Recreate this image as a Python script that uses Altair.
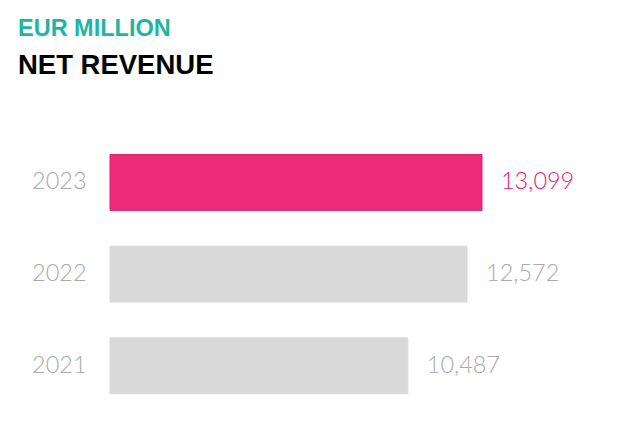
import altair as alt
import pandas as pd

years = ["2023", "2022", "2021"]
values = [13099, 12572, 10487]
labels = ["13,099", "12,572", "10,487"]

df = pd.DataFrame({"year": years, "value": values, "label": labels})

PINK = "#ee2a7b"
BAR_GRAY = "#d9d9d9"
TXT_GRAY = "#aaaaaa"
TEAL = "#1db5a3"

y = alt.Y("year:N", sort=years, title=None,
          scale=alt.Scale(paddingInner=0.39, paddingOuter=0.195),
          axis=alt.Axis(labelFontSize=23.5, labelColor=TXT_GRAY, labelFont="Lato",
                        labelFontWeight=300, labelPadding=24, ticks=False,
                        domain=False, grid=False))
x = alt.X("value:Q", title=None, scale=alt.Scale(domain=[0, 13099], nice=False, zero=True),
          axis=None)

bars = alt.Chart(df).mark_bar(strokeWidth=1).encode(
    x=x, y=y,
    color=alt.Color("year:N", scale=alt.Scale(domain=years, range=[PINK, BAR_GRAY, BAR_GRAY]),
                    legend=None),
    stroke=alt.Stroke("year:N", scale=alt.Scale(domain=years, range=["#dc2070", BAR_GRAY, BAR_GRAY]),
                      legend=None),
)

text = alt.Chart(df).mark_text(align="left", baseline="middle", dx=19, fontSize=23.5,
                               font="Lato", fontWeight=300).encode(
    x=x, y=y, text="label:N",
    color=alt.Color("year:N", scale=alt.Scale(domain=years, range=["#e8206f", TXT_GRAY, TXT_GRAY]),
                    legend=None),
)

chart = alt.layer(bars, text).resolve_scale(color="independent").properties(
    width=372, height=275,
    autosize=alt.AutoSizeParams(type="none"),
    padding={"left": 102, "top": 128.6, "right": 130, "bottom": 0},
    title=alt.TitleParams(
        text="EUR MILLION", subtitle="NET REVENUE",
        anchor="start", frame="group", dx=-92, offset=57,
        font="Liberation Sans", fontSize=23.5, fontWeight="bold", color=TEAL,
        subtitleFont="Liberation Sans", subtitleFontSize=27.5, subtitleFontWeight="bold",
        subtitleColor="#000000", subtitlePadding=12,
    ),
).configure_view(stroke=None)

chart.save("out.html", embed_options={"renderer": "svg", "actions": False})
